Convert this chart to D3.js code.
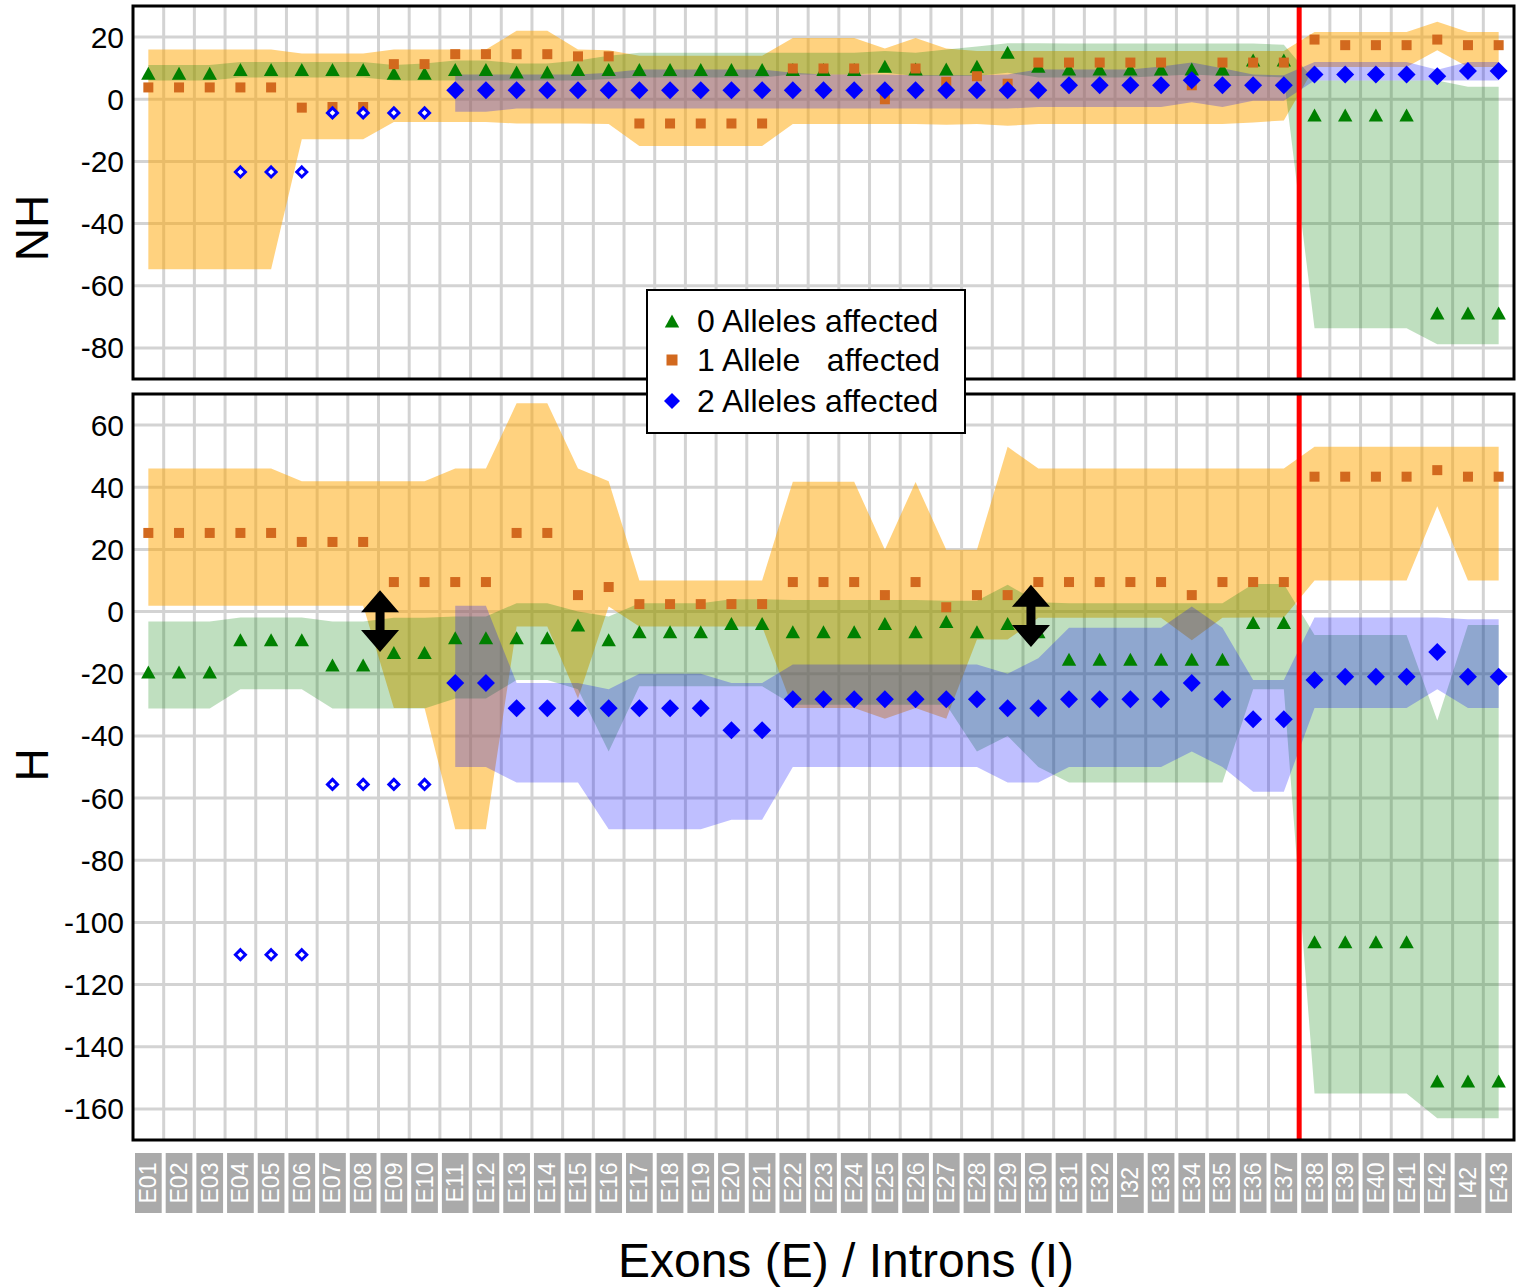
<!DOCTYPE html>
<html lang="en">
<head>
    <meta charset="UTF-8">
    <meta name="viewport" content="width=device-width, initial-scale=1.0">
    <script src="https://d3js.org/d3.v7.min.js"></script>
    <title>Alleles affected per exon</title>
    <style>
        body { margin: 0; background: white; }
        svg text { font-family: "Liberation Sans", Arial, sans-serif; }
    </style>
</head>
<body>
<svg id="chart" width="1517" height="1287"></svg>

<script>
// exons / introns along the x axis
const categories = ["E01","E02","E03","E04","E05","E06","E07","E08","E09","E10",
    "E11","E12","E13","E14","E15","E16","E17","E18","E19","E20",
    "E21","E22","E23","E24","E25","E26","E27","E28","E29","E30",
    "E31","E32","I32","E33","E34","E35","E36","E37",
    "E38","E39","E40","E41","E42","I42","E43"];

const nhTicks = [20, 0, -20, -40, -60, -80];
const hTicks = [60, 40, 20, 0, -20, -40, -60, -80, -100, -120, -140, -160];

// ---- NH panel ----
// 0 alleles affected
const nh0 = [8.4,8.4,8.4,9.6,9.6,9.6,9.6,9.6,8.4,8.4, 9.6,9.6,8.8,8.8,9.6,9.6,9.6,9.6,9.6,9.6,
    9.6,9.6,9.6,9.6,10.6,9.7,9.7,10.6,15.1,10.6, 9.7,9.7,9.7,9.7,9.7,9.7,12.6,12.6,
    -5.1,-5.1,-5.1,-5.1,-68.8,-68.8,-68.8];
const nh0Hi = [11,11,11,12,12,12,12,12,11,11.5, 12.5,12.5,11.5,11.5,12.5,14,15,15,15,15,
    15,15,15,15,15.5,15,16,17,18,18, 17.9,17.9,17.9,17.9,17.9,17.9,17.9,17.5,
    6,6,6,6,6,4,4];
const nh0Lo = [6,6,6,7,7,7,7,7,6,6, 6,6,6,6,6,6.5,7,7,7,7,
    7,8,8,8,8.5,7.5,7.5,7.5,8.5,7, 7,7,7,7.5,8,7.5,7.5,7,
    -73.7,-73.7,-73.7,-73.7,-78.8,-78.8,-78.8];
// 1 allele affected
const nh1 = [3.8,3.8,3.8,3.8,3.8,-2.7,-2.5,-2.5,11.3,11.3, 14.5,14.5,14.5,14.5,13.8,13.8,-7.8,-7.8,-7.8,-7.8,
    -7.8,9.9,9.9,9.9,0,9.9,5.6,7.4,5.0,11.8, 11.8,11.8,11.8,11.8,4.5,11.8,11.8,11.8,
    19.2,17.4,17.4,17.4,19.2,17.4,17.4];
const nh1Hi = [16,16,16,16,16,14.7,14.7,14.7,16,16, 16,16,22,22,16,15.8,14,14,14,14,
    14,19.7,19.7,19.7,16.3,19.7,16.3,15.5,15.5,15.5, 15.5,15.5,15.5,15.5,15.5,15.5,15.5,15.5,
    21.6,21.6,21.6,21.6,24.9,21.6,21.6];
const nh1Lo = [-54.7,-54.7,-54.7,-54.7,-54.7,-12.9,-12.9,-12.9,-7.3,-7.3, -7.3,-7.3,-7.8,-7.8,-7.8,-8,-15,-15,-15,-15,
    -15,-8,-8,-8,-8,-8,-8.2,-8,-8.5,-8, -8,-8,-8,-8,-8,-8,-7.5,-6.8,
    10.4,10.4,10.4,10.4,15.8,10.4,10.4];
// 2 alleles affected
const nh2 = [null,null,null,null,null,null,null,null,null,null,
    2.9,2.9,2.9,2.9,2.9,2.9,2.9,2.9,2.9,2.9, 2.9,2.9,2.9,2.9,2.9,2.9,2.9,2.9,2.9,2.9,
    4.5,4.5,4.5,4.5,6.1,4.5,4.5,4.5, 8,8,8,8,7.4,9.1,9.1];
const nh2Hi = [null,null,null,null,null,null,null,null,null,null,
    8,8,8,8,8,8.5,9.6,9.6,9.6,9.6, 9.6,8.5,8,8,8,7.7,7.7,7.7,8,9.6,
    9.6,9.6,9.6,10.5,11.8,10,8,7.7, 12,12,12,12,9.5,12,12];
const nh2Lo = [null,null,null,null,null,null,null,null,null,null,
    -4,-4,-3,-3,-3,-3,-3,-3,-3,-3, -3,-3,-3,-3,-3,-3,-3,-3,-3,-2.5,
    -2.5,-2.5,-2.5,-2.5,-1,-2.5,-0.5,-0.5, 6,6,6,6,6,6,6];
// single values without a range (open diamonds)
const nhSingle = [null,null,null,-23.4,-23.4,-23.4,-4.4,-4.4,-4.4,-4.4,
    null,null,null,null,null,null,null,null,null,null, null,null,null,null,null,null,null,null,null,null,
    null,null,null,null,null,null,null,null, null,null,null,null,null,null,null];

// ---- H panel ----
const h0 = [-19.4,-19.4,-19.4,-9.1,-9.1,-9.1,-17.2,-17.2,-13.2,-13.2, -8.4,-8.4,-8.4,-8.4,-4.3,-9.1,-6.5,-6.5,-6.5,-3.8,
    -3.8,-6.5,-6.5,-6.5,-3.8,-6.5,-3.2,-6.5,-3.8,-6.5, -15.3,-15.3,-15.3,-15.3,-15.3,-15.3,-3.5,-3.5,
    -106.2,-106.2,-106.2,-106.2,-151,-151,-151];
const h0Hi = [-3.2,-3.2,-3.2,-1.9,-1.9,-1.9,-3.2,-3.2,-2,-2, -1.6,-1.6,2.7,2.7,0,-1.6,2.7,2.7,2.7,4,
    4,3.7,3.7,3.7,3.7,3.7,3.5,3.5,8.6,3, 2.7,2.7,2.7,2.7,2.7,2.7,8.9,8.9,
    -7.5,-7.5,-7.5,-7.5,-35,-4.3,-4.3];
const h0Lo = [-31.2,-31.2,-31.2,-25,-25,-25,-31.2,-31.2,-31.2,-31.2, -28,-28,-22,-22,-25,-45,-24,-24,-24,-24,
    -24,-30,-30,-30,-30,-30,-30,-45,-40,-50, -55,-55,-55,-55,-55,-55,-25,-25,
    -155,-155,-155,-155,-163,-163,-163];
const h1 = [25.3,25.3,25.3,25.3,25.3,22.4,22.4,22.4,9.5,9.5, 9.5,9.5,25.3,25.3,5.3,7.9,2.4,2.4,2.4,2.4,
    2.4,9.5,9.5,9.5,5.3,9.5,1.4,5.3,5.3,9.5, 9.5,9.5,9.5,9.5,5.3,9.5,9.5,9.5,
    43.4,43.4,43.4,43.4,45.5,43.4,43.4];
const h1Hi = [46,46,46,46,46,41.9,41.9,41.9,41.9,41.9, 46,46,67,67,46,41.9,10,10,10,10,
    10,41.8,41.8,41.8,19.9,41.7,19.9,19.9,53,46, 46,46,46,46,46,46,46,46,
    53,53,53,53,53,53,53];
const h1Lo = [1.9,1.9,1.9,1.9,1.9,1.9,1.9,1.9,-31,-31, -70,-70,-4.8,-4.8,-28,1.6,-4.8,-4.8,-4.8,-4.8,
    -4.8,-31,-31,-31,-34.5,-31,-34.5,-9,-9,-2, -2,-2,-2,-2,-9.2,-2,-1.9,-1.9,
    10,10,10,10,33.9,10,10];
const h2 = [null,null,null,null,null,null,null,null,null,null,
    -23,-23,-31.1,-31.1,-31.1,-31.1,-31.1,-31.1,-31.1,-38.2, -38.2,-28.2,-28.2,-28.2,-28.2,-28.2,-28.2,-28.2,-31.1,-31.1,
    -28.2,-28.2,-28.2,-28.2,-23,-28.2,-34.6,-34.6, -22,-21,-21,-21,-13,-21,-21];
const h2Hi = [null,null,null,null,null,null,null,null,null,null,
    1.9,1.9,-23,-23,-23,-25,-20,-20,-20,-23, -23,-17,-17,-17,-17,-17,-17,-17,-20,-15,
    -5.2,-5.2,-5.2,-5.2,1.6,-5.2,-22,-22, -1.9,-1.9,-1.9,-1.9,-1.9,-2.5,-2.5];
const h2Lo = [null,null,null,null,null,null,null,null,null,null,
    -50,-50,-55,-55,-55,-70,-70,-70,-70,-67, -67,-50,-50,-50,-50,-50,-50,-50,-55,-55,
    -50,-50,-50,-50,-45,-50,-58,-58, -31,-31,-31,-31,-25,-31,-31];
const hSingle = [null,null,null,-110.4,-110.4,-110.4,-55.6,-55.6,-55.6,-55.6,
    null,null,null,null,null,null,null,null,null,null, null,null,null,null,null,null,null,null,null,null,
    null,null,null,null,null,null,null,null, null,null,null,null,null,null,null];

// double arrows in the H panel (position in category index / H units)
const arrows = [{i: 7.55, top: 6.9, bottom: -13.0}, {i: 28.76, top: 8.6, bottom: -11.4}];

const legendLabels = ["0 Alleles affected", "1 Allele   affected", "2 Alleles affected"];

const splitAfter = "E37"; // red line between E37 and E38

// ----------------------------------------------------------
const svg = d3.select("#chart");
const left = 133, right = 1514;

const x = d3.scaleBand().domain(categories).range([left, right]);
const step = x.step();
const xc = c => x(c) + step / 2;
const xi = d3.scaleLinear().domain([-0.5, categories.length - 0.5]).range([left, right]);

const colors = {g: "#008000", o: "#d2691e", b: "#0000ff"};
const bandFill = [{c: "#ffa500", op: 0.5}, {c: "#008000", op: 0.25}, {c: "#0000ff", op: 0.25}];

const panels = [
    {title: "NH", y: d3.scaleLinear().domain([-90, 30]).range([379, 6]), ticks: nhTicks, titleY: 228,
     pts: [nh0, nh1, nh2], hi: [nh1Hi, nh0Hi, nh2Hi], lo: [nh1Lo, nh0Lo, nh2Lo], single: nhSingle},
    {title: "H", y: d3.scaleLinear().domain([-170, 70]).range([1140, 394]), ticks: hTicks, titleY: 765,
     pts: [h0, h1, h2], hi: [h1Hi, h0Hi, h2Hi], lo: [h1Lo, h0Lo, h2Lo], single: hSingle}
];

const triPath = "M0,-6.5L7.2,6.5L-7.2,6.5Z";
const diaPath = "M0,-9L9,0L0,9L-9,0Z";
const openDiaPath = "M0,-5L5,0L0,5L-5,0Z";

function drawMarkers(g, vals, y, kind) {
    const data = categories.map((c, i) => ({c: c, v: vals[i]})).filter(d => d.v != null);
    if (kind === "sq") {
        g.selectAll(null).data(data).join("rect")
            .attr("x", d => xc(d.c) - 5).attr("y", d => y(d.v) - 5)
            .attr("width", 10).attr("height", 10)
            .attr("fill", colors.o);
    } else {
        g.selectAll(null).data(data).join("path")
            .attr("transform", d => `translate(${xc(d.c)},${y(d.v)})`)
            .attr("d", kind === "tri" ? triPath : kind === "dia" ? diaPath : openDiaPath)
            .attr("fill", kind === "tri" ? colors.g : kind === "dia" ? colors.b : "white")
            .attr("stroke", kind === "open" ? colors.b : "none")
            .attr("stroke-width", 3);
    }
}

panels.forEach(p => {
    const y = p.y;
    const top = y.range()[1], bottom = y.range()[0];
    const g = svg.append("g");

    // grid
    g.selectAll(null).data(p.ticks).join("line")
        .attr("x1", left).attr("x2", right)
        .attr("y1", d => y(d)).attr("y2", d => y(d))
        .attr("stroke", "#d3d3d3").attr("stroke-width", 3);
    g.selectAll(null).data(categories.slice(1)).join("line")
        .attr("x1", d => x(d)).attr("x2", d => x(d))
        .attr("y1", top).attr("y2", bottom)
        .attr("stroke", "#d3d3d3").attr("stroke-width", 3);

    // ranges: orange, green, blue
    p.hi.forEach((hi, k) => {
        const rows = categories.map((c, i) => ({c: c, hi: hi[i], lo: p.lo[k][i]}));
        const area = d3.area()
            .defined(d => d.hi != null)
            .x(d => xc(d.c))
            .y0(d => y(d.lo))
            .y1(d => y(d.hi));
        g.append("path").datum(rows)
            .attr("d", area)
            .attr("fill", bandFill[k].c)
            .attr("fill-opacity", bandFill[k].op);
    });

    // red separator
    g.append("line")
        .attr("x1", x(splitAfter) + step).attr("x2", x(splitAfter) + step)
        .attr("y1", top).attr("y2", bottom)
        .attr("stroke", "red").attr("stroke-width", 5);

    drawMarkers(g, p.pts[0], y, "tri");
    drawMarkers(g, p.pts[1], y, "sq");
    drawMarkers(g, p.pts[2], y, "dia");
    drawMarkers(g, p.single, y, "open");

    // frame
    g.append("rect")
        .attr("x", left).attr("y", top)
        .attr("width", right - left).attr("height", bottom - top)
        .attr("fill", "none").attr("stroke", "black").attr("stroke-width", 3);

    // tick labels
    g.selectAll(null).data(p.ticks).join("text")
        .attr("x", 124).attr("y", d => y(d))
        .attr("text-anchor", "end").attr("dominant-baseline", "central")
        .attr("font-size", 30)
        .text(d => String(d));

    g.append("text")
        .attr("transform", `translate(48,${p.titleY}) rotate(-90)`)
        .attr("text-anchor", "middle")
        .attr("font-size", 46)
        .text(p.title);
});

// arrows in H panel
const yH = panels[1].y;
svg.selectAll(null).data(arrows).join("path")
    .attr("d", a => {
        const cx = xi(a.i), t = yH(a.top), b = yH(a.bottom);
        const hw = 19, hh = 22, sw = 4.5;
        return `M${cx},${t}L${cx + hw},${t + hh}L${cx + sw},${t + hh}L${cx + sw},${b - hh}L${cx + hw},${b - hh}` +
            `L${cx},${b}L${cx - hw},${b - hh}L${cx - sw},${b - hh}L${cx - sw},${t + hh}L${cx - hw},${t + hh}Z`;
    })
    .attr("fill", "black");

// category labels in grey boxes
const lab = svg.append("g");
lab.selectAll(null).data(categories).join("rect")
    .attr("x", d => x(d) + 2).attr("y", 1153)
    .attr("width", step - 4).attr("height", 60)
    .attr("fill", "#aaaaaa");
lab.selectAll(null).data(categories).join("text")
    .attr("transform", d => `translate(${xc(d)},1183) rotate(-90)`)
    .attr("text-anchor", "middle").attr("dominant-baseline", "central")
    .attr("font-size", 23).attr("fill", "white")
    .text(d => d);

svg.append("text")
    .attr("x", 846).attr("y", 1277)
    .attr("text-anchor", "middle")
    .attr("font-size", 48)
    .text("Exons (E) / Introns (I)");

// legend
const leg = svg.append("g");
leg.append("rect")
    .attr("x", 647).attr("y", 290).attr("width", 318).attr("height", 143)
    .attr("fill", "white").attr("stroke", "black").attr("stroke-width", 2);
const legY = [321, 360, 401];
leg.append("path").attr("d", triPath).attr("transform", `translate(672,${legY[0]})`).attr("fill", colors.g);
leg.append("rect").attr("x", 672 - 5.5).attr("y", legY[1] - 5.5).attr("width", 11).attr("height", 11).attr("fill", colors.o);
leg.append("path").attr("d", "M0,-8L8,0L0,8L-8,0Z").attr("transform", `translate(672,${legY[2]})`).attr("fill", colors.b);
leg.selectAll("text").data(legendLabels).join("text")
    .attr("x", 697).attr("y", (d, i) => legY[i])
    .attr("dominant-baseline", "central")
    .attr("font-size", 32)
    .style("white-space", "pre")
    .text(d => d);
</script>
</body>
</html>
